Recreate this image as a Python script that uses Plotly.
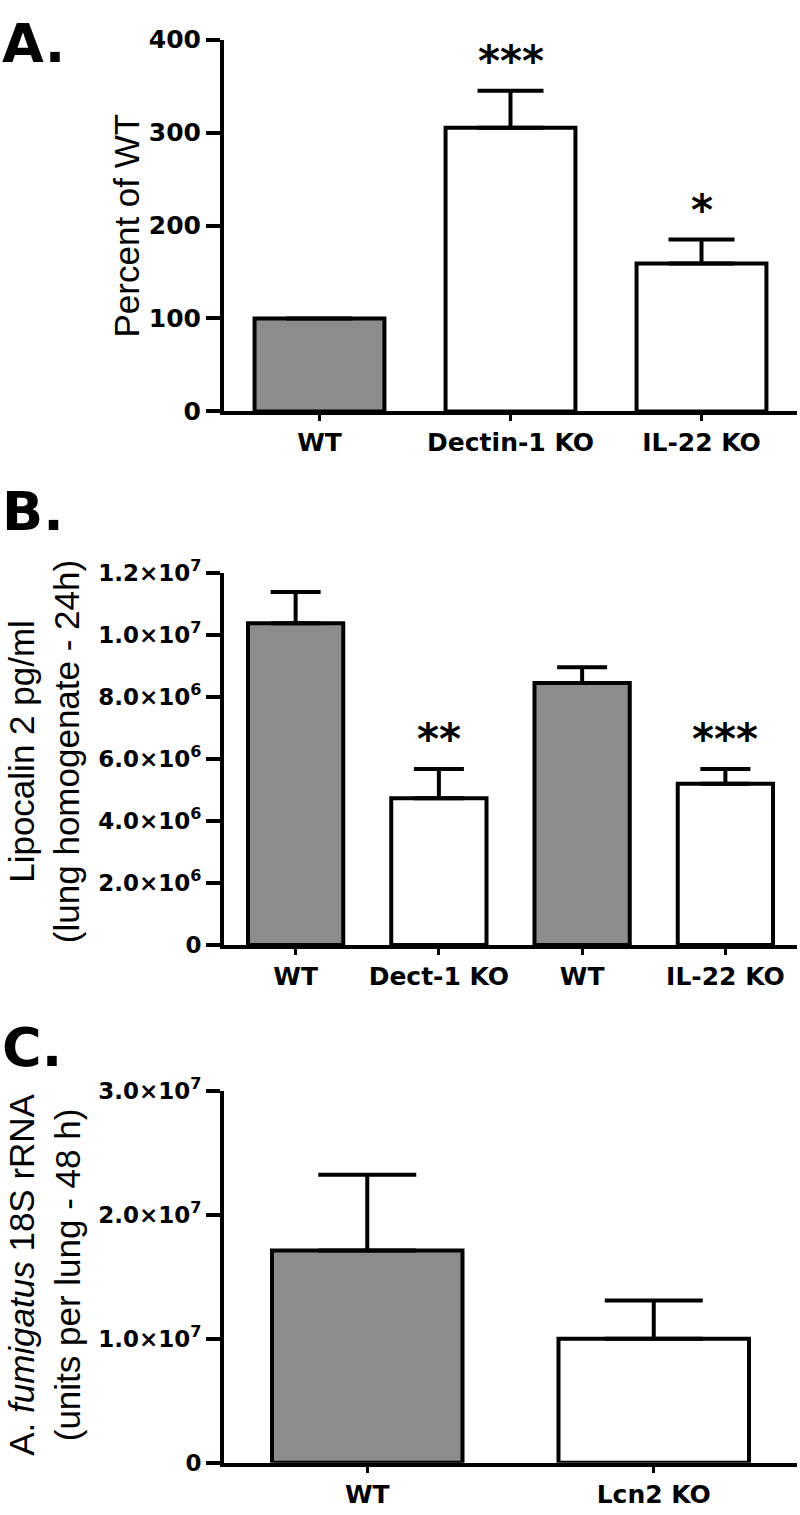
import plotly.graph_objects as go

# ---------------- data ----------------
A_labels = ["WT", "Dectin-1 KO", "IL-22 KO"]
A_values = [100, 305, 159]
A_errors = [0, 40, 26]
A_stars = ["", "***", "*"]
A_ticks = [0, 100, 200, 300, 400]
A_ticktext = ["0", "100", "200", "300", "400"]

B_labels = ["WT", "Dect-1 KO", "WT", "IL-22 KO"]
B_values = [10.38e6, 4.73e6, 8.45e6, 5.20e6]
B_errors = [1.01e6, 0.95e6, 0.51e6, 0.48e6]
B_stars = ["", "**", "", "***"]
B_ticks = [0, 2e6, 4e6, 6e6, 8e6, 1.0e7, 1.2e7]
B_ticktext = ["0", "2.0×10<sup>6</sup>", "4.0×10<sup>6</sup>", "6.0×10<sup>6</sup>",
              "8.0×10<sup>6</sup>", "1.0×10<sup>7</sup>", "1.2×10<sup>7</sup>"]

C_labels = ["WT", "Lcn2 KO"]
C_values = [1.713e7, 1.00e7]
C_errors = [0.61e7, 0.31e7]
C_stars = ["", ""]
C_ticks = [0, 1e7, 2e7, 3e7]
C_ticktext = ["0", "1.0×10<sup>7</sup>", "2.0×10<sup>7</sup>", "3.0×10<sup>7</sup>"]

A_colors = ["#8c8c8c", "white", "white"]
B_colors = ["#8c8c8c", "white", "#8c8c8c", "white"]
C_colors = ["#8c8c8c", "white"]

# ---------------- style ----------------
W, H = 800, 1515
XTICKFONT = dict(family="DejaVu Sans", size=25, color="black", weight="bold")
TITLEFONT = dict(family="Liberation Sans, Arial", size=35, color="black")
LETTERFONT = dict(family="DejaVu Sans", size=54, color="black", weight="bold")
STARFONT = dict(family="DejaVu Sans", size=42, color="black", weight="bold")

panels = [
    # labels, values, errors, stars, colors, ticks, ticktext, ymax, ydomain(px top,bottom), barwidth, capw, ytick size
    (A_labels, A_values, A_errors, A_stars, A_colors, A_ticks, A_ticktext, 400, (23, 403), 0.68, 33, 25),
    (B_labels, B_values, B_errors, B_stars, B_colors, B_ticks, B_ticktext, 1.2e7, (568, 948), 0.665, 25, 23),
    (C_labels, C_values, C_errors, C_stars, C_colors, C_ticks, C_ticktext, 3e7, (1097, 1477), 0.665, 49, 23),
]

fig = go.Figure()
annotations = []
xdom = [224 / W, 797 / W]

for i, (labels, vals, errs, stars, colors, ticks, ttext, ymax, (ptop, pbot), bw, capw, yts) in enumerate(panels):
    n = i + 1
    xa = "x" if n == 1 else f"x{n}"
    ya = "y" if n == 1 else f"y{n}"
    xpos = list(range(len(labels)))
    fig.add_trace(go.Bar(
        x=xpos, y=vals, width=bw, xaxis=xa, yaxis=ya,
        marker=dict(color=colors, line=dict(color="black", width=4)),
        error_y=dict(type="data", symmetric=False, array=errs,
                     arrayminus=[0] * len(errs), color="black",
                     thickness=4, width=capw),
        showlegend=False, hoverinfo="skip",
    ))
    ydom = [1 - pbot / H, 1 - ptop / H]
    xkey = "xaxis" if n == 1 else f"xaxis{n}"
    ykey = "yaxis" if n == 1 else f"yaxis{n}"
    fig.layout[xkey] = dict(
        domain=xdom, anchor=ya, range=[-0.5, len(labels) - 0.5],
        tickmode="array", tickvals=xpos, ticktext=labels,
        showline=True, linewidth=4, linecolor="black",
        ticks="outside", ticklen=6, tickwidth=3, tickcolor="black",
        tickfont=XTICKFONT, showgrid=False, zeroline=False, fixedrange=True,
    )
    fig.layout[ykey] = dict(
        domain=ydom, anchor=xa, range=[0, ymax],
        tickmode="array", tickvals=ticks, ticktext=ttext,
        showline=True, linewidth=4, linecolor="black",
        ticks="outside", ticklen=14, tickwidth=4, tickcolor="black",
        tickfont=dict(family="DejaVu Sans", size=yts, color="black", weight="bold"),
        showgrid=False, zeroline=False, fixedrange=True,
    )
    # overlay axis to make ticks cross the axis line
    okey = f"yaxis{n + 3}"
    fig.layout[okey] = dict(
        overlaying=ya, anchor=xa, side="left", range=[0, ymax],
        tickmode="array", tickvals=ticks, showticklabels=False,
        ticks="inside", ticklen=13, tickwidth=4, tickcolor="black",
        showline=False, showgrid=False, zeroline=False, fixedrange=True,
    )
    for xp, v, e, s in zip(xpos, vals, errs, stars):
        if s:
            annotations.append(dict(
                x=xp, y=v + e, xref=xa, yref=ya, text=s, showarrow=False,
                xanchor="center", yanchor="middle", yshift=29, font=STARFONT,
            ))

# y-axis titles
annotations += [
    dict(x=127 / W, y=1 - 213 / H, xref="paper", yref="paper", text="Percent of WT",
         textangle=-90, showarrow=False, xanchor="center", yanchor="middle", font=TITLEFONT),
    dict(x=44 / W, y=1 - 751 / H, xref="paper", yref="paper",
         text="Lipocalin 2 pg/ml<br>(lung homogenate - 24h)",
         textangle=-90, showarrow=False, xanchor="center", yanchor="middle", font=TITLEFONT),
    dict(x=45 / W, y=1 - 1285 / H, xref="paper", yref="paper",
         text="A. <i>fumigatus</i> 18S rRNA<br>(units per lung - 48 h)",
         textangle=-90, showarrow=False, xanchor="center", yanchor="middle", font=TITLEFONT),
]
# panel letters
for letter, ypx in [("A.", 27), ("B.", 505), ("C.", 1053)]:
    annotations.append(dict(x=0, y=1 - ypx / H, xref="paper", yref="paper", text=letter,
                            showarrow=False, xanchor="left", yanchor="middle", font=LETTERFONT))

fig.update_layout(
    width=W, height=H, margin=dict(l=0, r=0, t=0, b=0),
    paper_bgcolor="white", plot_bgcolor="white",
    annotations=annotations, bargap=0,
)

fig.write_html("out.html", config={"displayModeBar": False, "staticPlot": True},
               post_script="document.body.style.margin='0px';")
